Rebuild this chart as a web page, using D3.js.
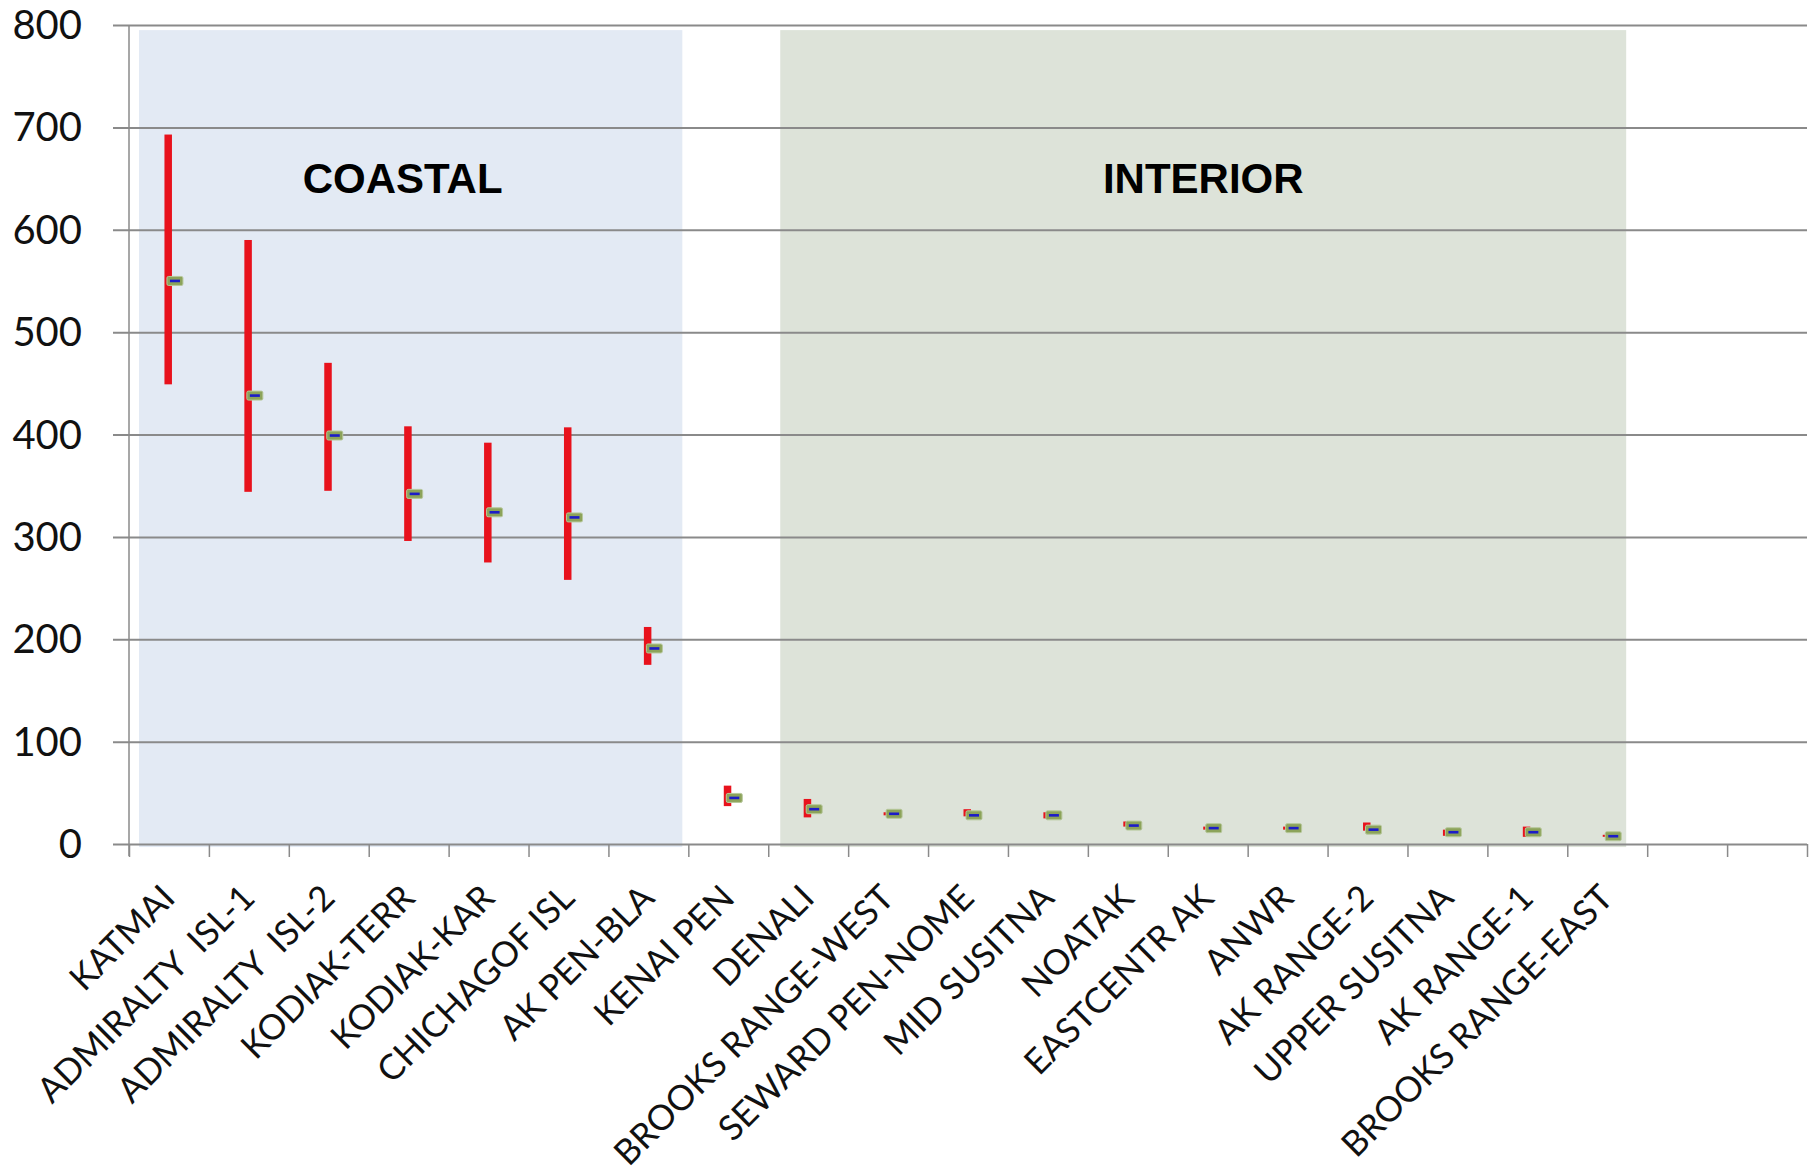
<!DOCTYPE html>
<html>
<head>
<meta charset="utf-8">
<script src="https://cdn.jsdelivr.net/npm/d3@7"></script>
<style>
  body { margin: 0; background: #fff; }
  svg { display: block; }
</style>
</head>
<body>
<div id="chart"></div>
<script>
// categories, last two slots are empty in the original
const categories = ['KATMAI', 'ADMIRALTY  ISL-1', 'ADMIRALTY  ISL-2', 'KODIAK-TERR', 'KODIAK-KAR',
  'CHICHAGOF ISL', 'AK PEN-BLA', 'KENAI PEN', 'DENALI', 'BROOKS RANGE-WEST', 'SEWARD PEN-NOME',
  'MID SUSITNA', 'NOATAK', 'EASTCENTR AK', 'ANWR', 'AK RANGE-2', 'UPPER SUSITNA', 'AK RANGE-1',
  'BROOKS RANGE-EAST', '', ''];

const highs = [693, 590, 470, 408, 392, 407, 212, 57, 44, 31, 34, 31, 22, 17, 17, 21, 14, 17, 9];
const lows  = [449, 344, 345, 296, 275, 258, 175, 37, 26, 28, 27, 25, 17, 14, 14, 13, 8, 7, 7];
const means = [550, 438, 399, 342, 324, 319, 191, 45, 34, 29.5, 28, 28, 18, 15.5, 15.5, 14, 11.5, 11.5, 7.6];

const yTicks = [0, 100, 200, 300, 400, 500, 600, 700, 800];

// shaded groups: first and last category index
const groupNames = ['COASTAL', 'INTERIOR'];
const groupFirst = [0, 8];
const groupLast = [6, 18];

const W = 1820, H = 1171;
const plotLeft = 129, plotRight = 1807, plotTop = 25, plotBottom = 844;

const svg = d3.select('#chart').append('svg')
  .attr('width', W)
  .attr('height', H);

const x = d3.scaleLinear().domain([0, categories.length]).range([plotLeft, plotRight]);
const y = d3.scaleLinear().domain([0, 800]).range([plotBottom, plotTop]);

// background bands
const bandFills = ['#e3eaf4', '#dde3d9'];
const bandInset = [[10, 6], [12, 21]];
groupNames.forEach((name, i) => {
  const x0 = x(groupFirst[i]) + bandInset[i][0];
  const x1 = x(groupLast[i] + 1) - bandInset[i][1];
  svg.append('rect')
    .attr('x', x0)
    .attr('y', y(795))
    .attr('width', x1 - x0)
    .attr('height', y(-3) - y(795))
    .attr('fill', bandFills[i]);
  svg.append('text')
    .attr('x', (x0 + x1) / 2 - (i === 0 ? 8 : 0))
    .attr('y', y(636))
    .attr('text-anchor', 'middle')
    .style('font-family', '"Liberation Sans", Arial, sans-serif')
    .style('font-weight', 'bold')
    .style('font-size', '42px')
    .text(name);
});

// y axis + gridlines
const yAxis = svg.append('g')
  .attr('transform', `translate(${plotLeft},0)`)
  .call(d3.axisLeft(y).tickValues(yTicks).tickSize(-(plotRight - plotLeft)).tickPadding(0));
yAxis.select('.domain').remove();
yAxis.selectAll('.tick line')
  .attr('x1', -16)
  .attr('stroke', '#8a8a8a')
  .attr('stroke-width', 2);
yAxis.selectAll('.tick text')
  .attr('x', -47)
  .attr('dy', '0.34em')
  .style('font-family', 'Lato, "Open Sans", sans-serif')
  .style('font-size', '40px')
  .attr('fill', '#111');

svg.append('line')
  .attr('x1', plotLeft).attr('x2', plotLeft)
  .attr('y1', plotTop).attr('y2', plotBottom + 12)
  .attr('stroke', '#8a8a8a')
  .attr('stroke-width', 1.5);

// x axis ticks between categories
const xAxis = svg.append('g')
  .attr('transform', `translate(0,${plotBottom})`)
  .call(d3.axisBottom(x).tickValues(d3.range(categories.length + 1)).tickFormat('').tickSize(13).tickSizeOuter(0));
xAxis.select('.domain').remove();
xAxis.selectAll('.tick line').attr('stroke', '#8a8a8a').attr('stroke-width', 1.5);

// category labels, rotated
svg.append('g').selectAll('text')
  .data(categories)
  .join('text')
  .attr('transform', (d, i) => `translate(${x(i + 0.5) + 8},${plotBottom + 56}) rotate(-45)`)
  .attr('text-anchor', 'end')
  .style('font-family', 'Lato, "Open Sans", sans-serif')
  .style('font-size', '35px')
  .attr('fill', '#111')
  .style('white-space', 'pre')
  .text(d => d);

// high-low bars
svg.append('g').selectAll('rect')
  .data(highs)
  .join('rect')
  .attr('x', (d, i) => x(i + 0.5) - 4.5)
  .attr('y', d => y(d))
  .attr('width', 7.5)
  .attr('height', (d, i) => y(lows[i]) - y(d))
  .attr('fill', '#e8121c');

// mean markers
const mk = svg.append('g').selectAll('g')
  .data(means)
  .join('g')
  .attr('transform', (d, i) => `translate(${x(i + 0.5) + 6},${y(d)})`);
mk.append('rect')
  .attr('x', -8).attr('y', -4.5)
  .attr('width', 16).attr('height', 9)
  .attr('rx', 1.5)
  .attr('fill', '#8ca35a')
  .attr('stroke', '#b7c89c')
  .attr('stroke-width', 1);
mk.append('rect')
  .attr('x', -5).attr('y', -1.3)
  .attr('width', 10).attr('height', 2.6)
  .attr('fill', '#1c1cc8');
</script>
</body>
</html>
